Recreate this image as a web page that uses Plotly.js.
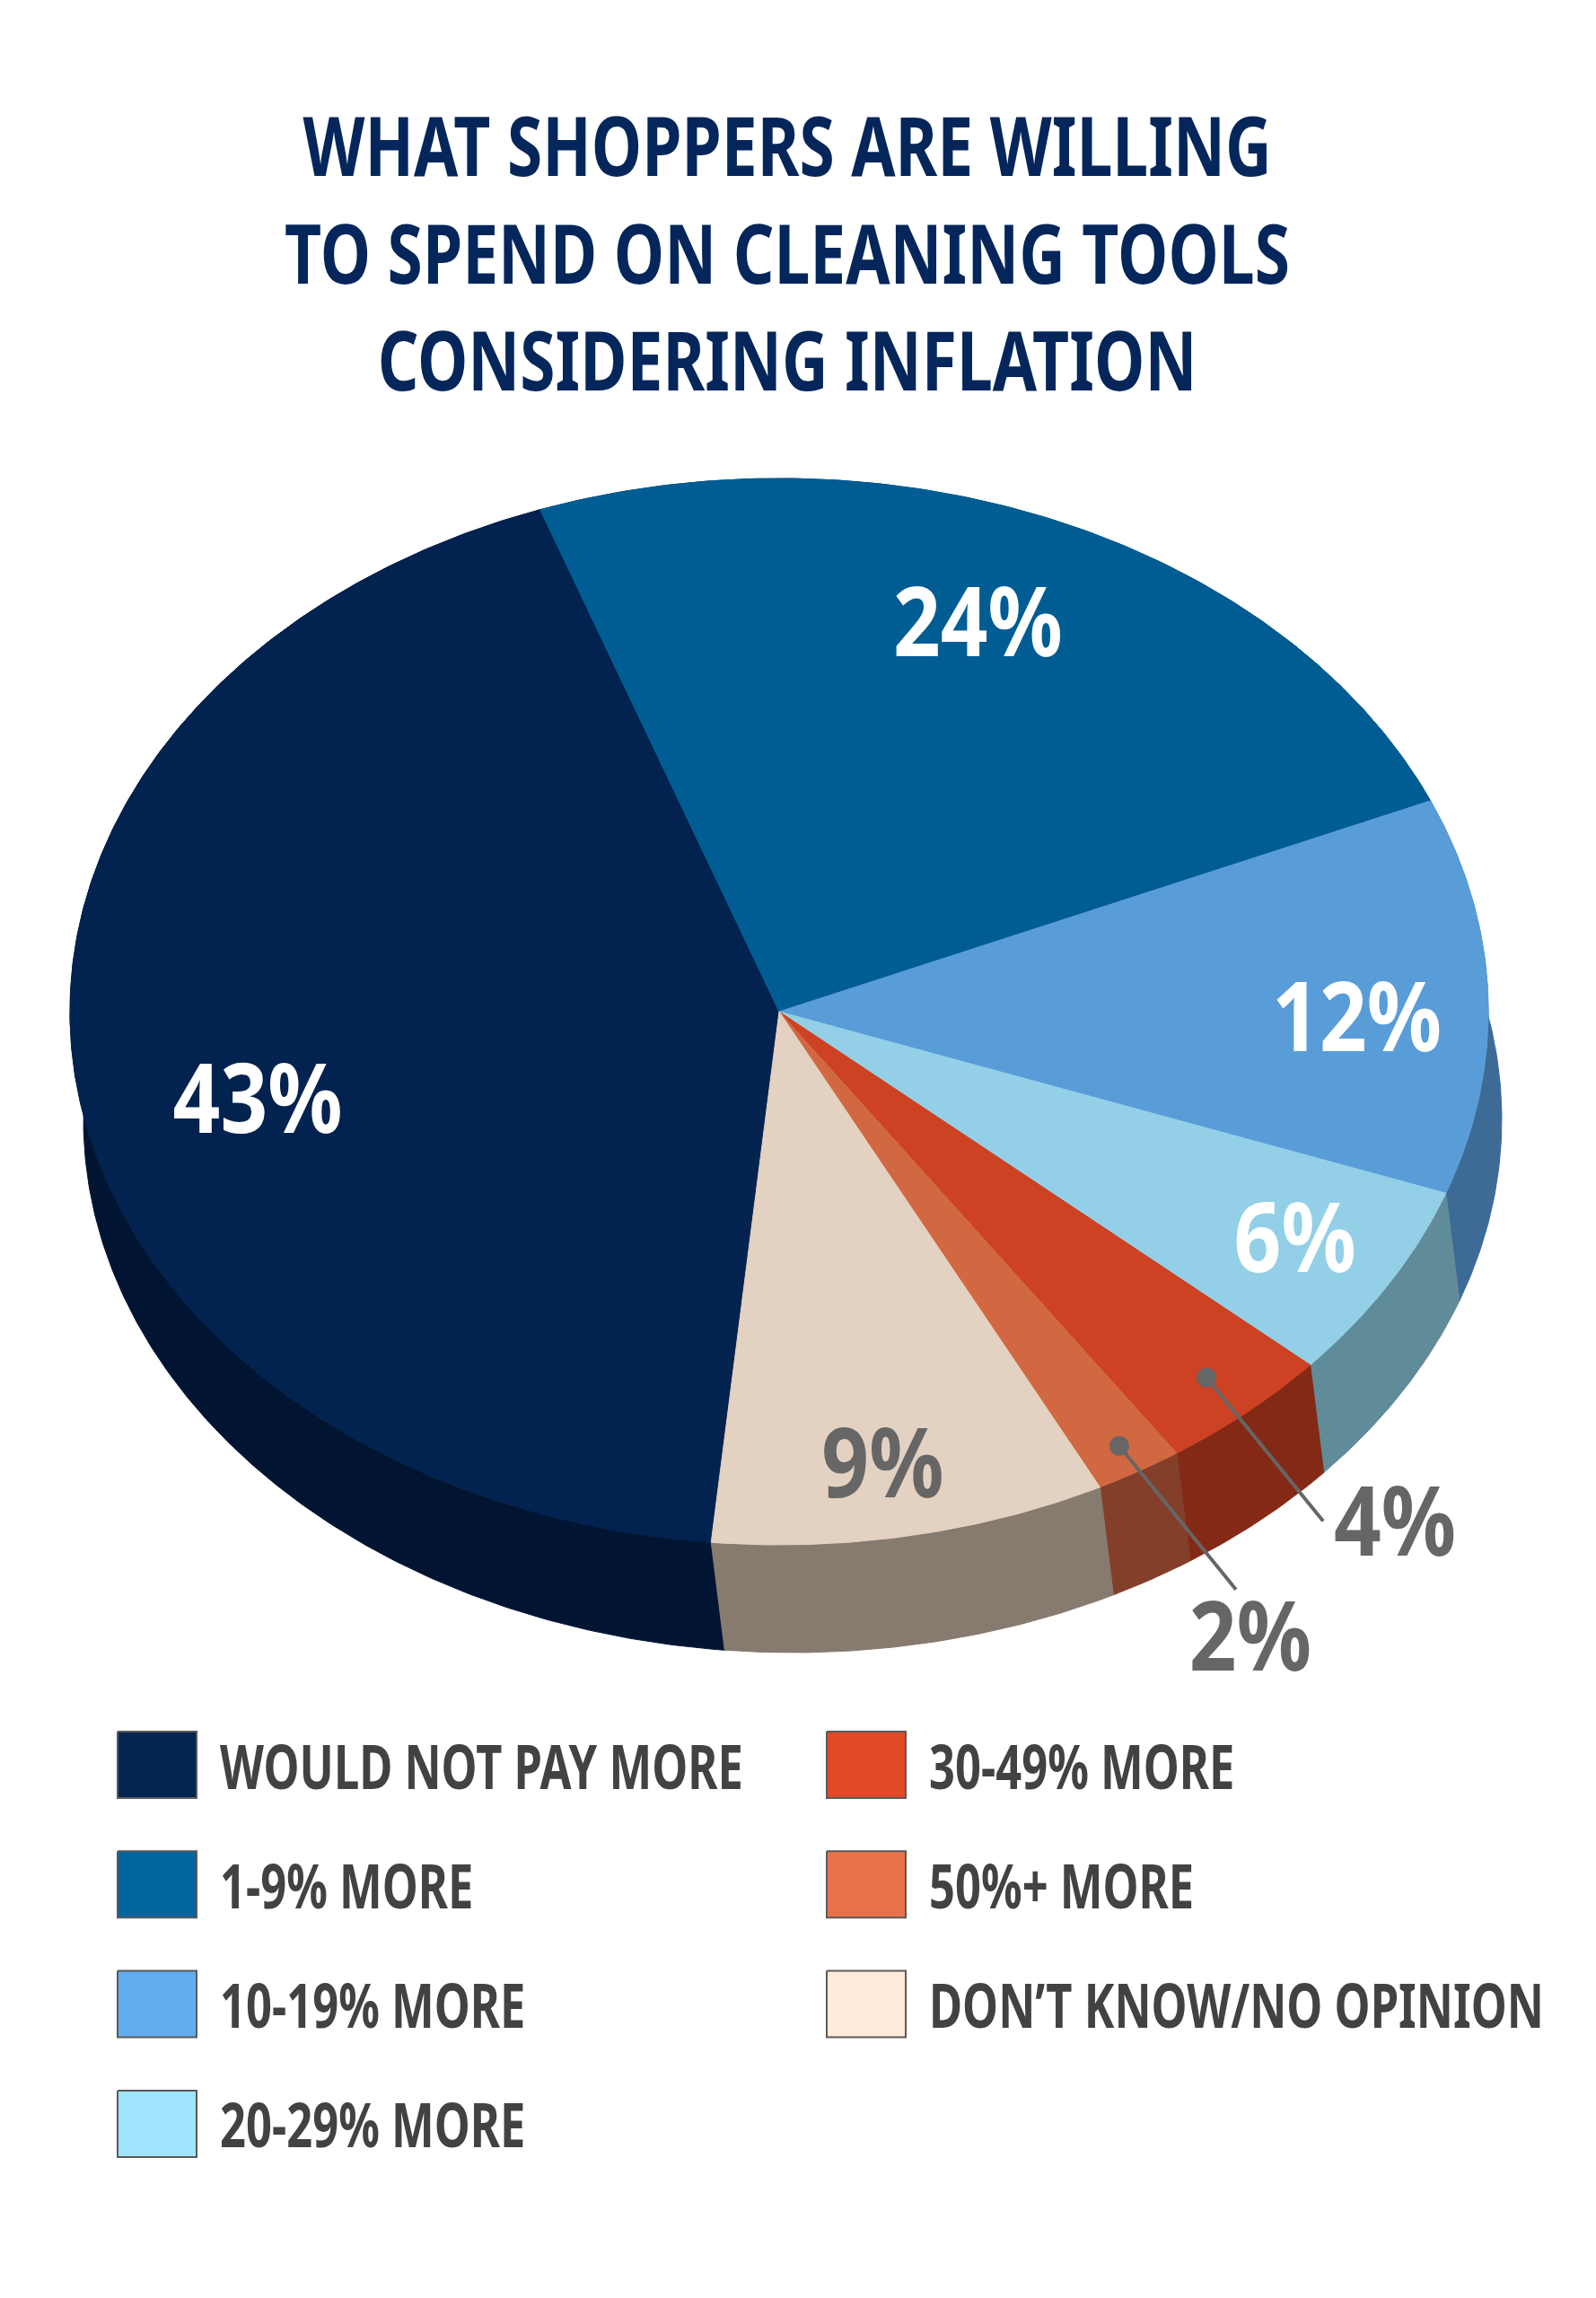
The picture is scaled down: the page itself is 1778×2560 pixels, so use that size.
<!DOCTYPE html>
<html>
<head>
<meta charset="utf-8">
<script src="https://cdn.plot.ly/plotly-3.0.1.min.js"></script>
<style>
html,body{margin:0;padding:0;background:#fff}
/* no condensed face is installed, so squeeze the glyphs horizontally */
#chart .gtitle {transform: scaleX(0.775); transform-box: fill-box; transform-origin: center;}
#chart .annotation-text {transform: scaleX(0.745); transform-box: fill-box; transform-origin: left center;}
#chart .textpoint text {transform: scaleX(0.855); transform-box: fill-box; transform-origin: center;}
</style>
</head>
<body>
<div id="chart" style="width:1778px;height:2560px"></div>
<script>
// data -----------------------------------------------------------------
const categories = ["WOULD NOT PAY MORE", "1-9% MORE", "10-19% MORE", "20-29% MORE",
                    "30-49% MORE", "50%+ MORE", "DON\u2019T KNOW/NO OPINION"];
const shares = [43, 24, 12, 6, 4, 2, 9];
const shareLabels = ["43%", "24%", "12%", "6%", "4%", "2%", "9%"];

// look -----------------------------------------------------------------
const topColors = ["#02224F", "#005D94", "#599DD8", "#93D0E8", "#CC4223", "#D26841", "#E3D1C2"];
const sideColors = ["#011532", "#003A5E", "#3D6B96", "#608B98", "#832916", "#843F2A", "#877A6F"];
const legendColors = ["#022551", "#0066A0", "#62ADF0", "#A0E5FD", "#E24A28", "#E8714A", "#FFE9D9"];
const labelColors = ["#FFFFFF", "#FFFFFF", "#FFFFFF", "#FFFFFF", "#666666", "#666666", "#666666"];

const W = 1778, H = 2560;
const FONT = "'Noto Sans', 'DejaVu Sans Condensed', sans-serif";
const pie = {cx: 868, cy: 1127, rx: 790, ry: 594, dx: 15, dy: 120, start: 185.5};
// label spot per slice: [radius factor, angle shift]; null = callout
const labelSpots = [[0.755, -6], [0.775, -2.3], [0.815, 3], [0.846, 0], null, null, [0.867, 1]];
const callouts = {4: {r: 0.913, off: [80, 6]}, 5: {r: 0.945, off: [16, 57]}};
const leader = [130, 160];
const labelDrop = 6;

// geometry helpers -------------------------------------------------------
function pt(a, r, dx, dy) {
    const t = a * Math.PI / 180;
    return [pie.cx + r * pie.rx * Math.sin(t) + (dx || 0), pie.cy - r * pie.ry * Math.cos(t) + (dy || 0)];
}
function arc(a0, a1, dx, dy) {
    const pts = [];
    const n = Math.max(2, Math.ceil(Math.abs(a1 - a0) / 0.5));
    for (let k = 0; k <= n; k++) pts.push(pt(a0 + (a1 - a0) * k / n, 1, dx, dy));
    return pts;
}

const total = shares.reduce((s, v) => s + v, 0);
let angles = [];
let acc = pie.start;
for (let i = 0; i < shares.length; i++) {
    const span = shares[i] / total * 360;
    angles.push([acc, acc + span]);
    acc += span;
}

let traces = [];

// sides of the disc first, tops cover the hidden parts
for (let i = 0; i < shares.length; i++) {
    const [a0, a1] = angles[i];
    const pts = arc(a0, a1, 0, 0).concat(arc(a1, a0, pie.dx, pie.dy));
    pts.push(pts[0]);
    traces.push({
        x: pts.map(p => p[0]), y: pts.map(p => p[1]),
        mode: "lines", fill: "toself", fillcolor: sideColors[i],
        line: {color: sideColors[i], width: 1}, hoverinfo: "skip"
    });
}

// top faces
for (let i = 0; i < shares.length; i++) {
    const [a0, a1] = angles[i];
    const pts = [[pie.cx, pie.cy]].concat(arc(a0, a1, 0, 0));
    pts.push([pie.cx, pie.cy]);
    traces.push({
        x: pts.map(p => p[0]), y: pts.map(p => p[1]),
        mode: "lines", fill: "toself", fillcolor: topColors[i],
        line: {color: topColors[i], width: 1}, hoverinfo: "skip",
        name: categories[i]
    });
}

// labels and callouts
let lx = [], ly = [], lt = [], lc = [];
let annotations = [];
for (let i = 0; i < shares.length; i++) {
    const mid = (angles[i][0] + angles[i][1]) / 2;
    if (labelSpots[i]) {
        const p = pt(mid + labelSpots[i][1], labelSpots[i][0]);
        lx.push(p[0]); ly.push(p[1] + labelDrop); lt.push(shareLabels[i]); lc.push(labelColors[i]);
    } else {
        const c = callouts[i];
        const p0 = pt(mid, c.r);
        const p1 = [p0[0] + leader[0], p0[1] + leader[1]];
        traces.push({
            x: [p0[0], p1[0]], y: [p0[1], p1[1]], mode: "lines",
            line: {color: "#666666", width: 4}, hoverinfo: "skip"
        });
        traces.push({
            x: [p0[0]], y: [p0[1]], mode: "markers",
            marker: {color: "#666666", size: 22}, hoverinfo: "skip"
        });
        lx.push(p1[0] + c.off[0]); ly.push(p1[1] + c.off[1] + labelDrop); lt.push(shareLabels[i]); lc.push(labelColors[i]);
    }
}
traces.push({
    x: lx, y: ly, text: lt, mode: "text", textposition: "middle center",
    textfont: {family: FONT, size: 108, color: lc, weight: 700}, hoverinfo: "skip"
});

// legend, two columns
const legCols = [131, 921], legTop = 1966, legStep = 133.3, boxW = 88, boxH = 74;
for (let i = 0; i < categories.length; i++) {
    const col = i < 4 ? 0 : 1;
    const row = i < 4 ? i : i - 4;
    const x0 = legCols[col], yc = legTop + row * legStep;
    traces.push({
        x: [x0, x0 + boxW, x0 + boxW, x0, x0],
        y: [yc - boxH / 2, yc - boxH / 2, yc + boxH / 2, yc + boxH / 2, yc - boxH / 2],
        mode: "lines", fill: "toself", fillcolor: legendColors[i],
        line: {color: "#5A5A5A", width: 2}, hoverinfo: "skip"
    });
    annotations.push({
        x: x0 + boxW + 24, y: yc, xref: "x", yref: "y", xanchor: "left", yanchor: "middle",
        text: categories[i], showarrow: false,
        font: {family: FONT, size: 68, color: "#424242", weight: 700}
    });
}

const layout = {
    width: W, height: H,
    margin: {l: 0, r: 0, t: 0, b: 0},
    paper_bgcolor: "#ffffff", plot_bgcolor: "#ffffff",
    showlegend: false,
    title: {
        text: "WHAT SHOPPERS ARE WILLING<br>TO SPEND ON CLEANING TOOLS<br>CONSIDERING INFLATION",
        x: 877 / W, xanchor: "center", y: 1 - 196 / H, yanchor: "middle", yref: "container",
        font: {family: FONT, size: 92, color: "#04265A", weight: 700}
    },
    xaxis: {range: [0, W], visible: false, fixedrange: true},
    yaxis: {range: [H, 0], visible: false, fixedrange: true},
    annotations: annotations
};

Plotly.newPlot("chart", traces, layout, {displayModeBar: false, staticPlot: true});
</script>
</body>
</html>
